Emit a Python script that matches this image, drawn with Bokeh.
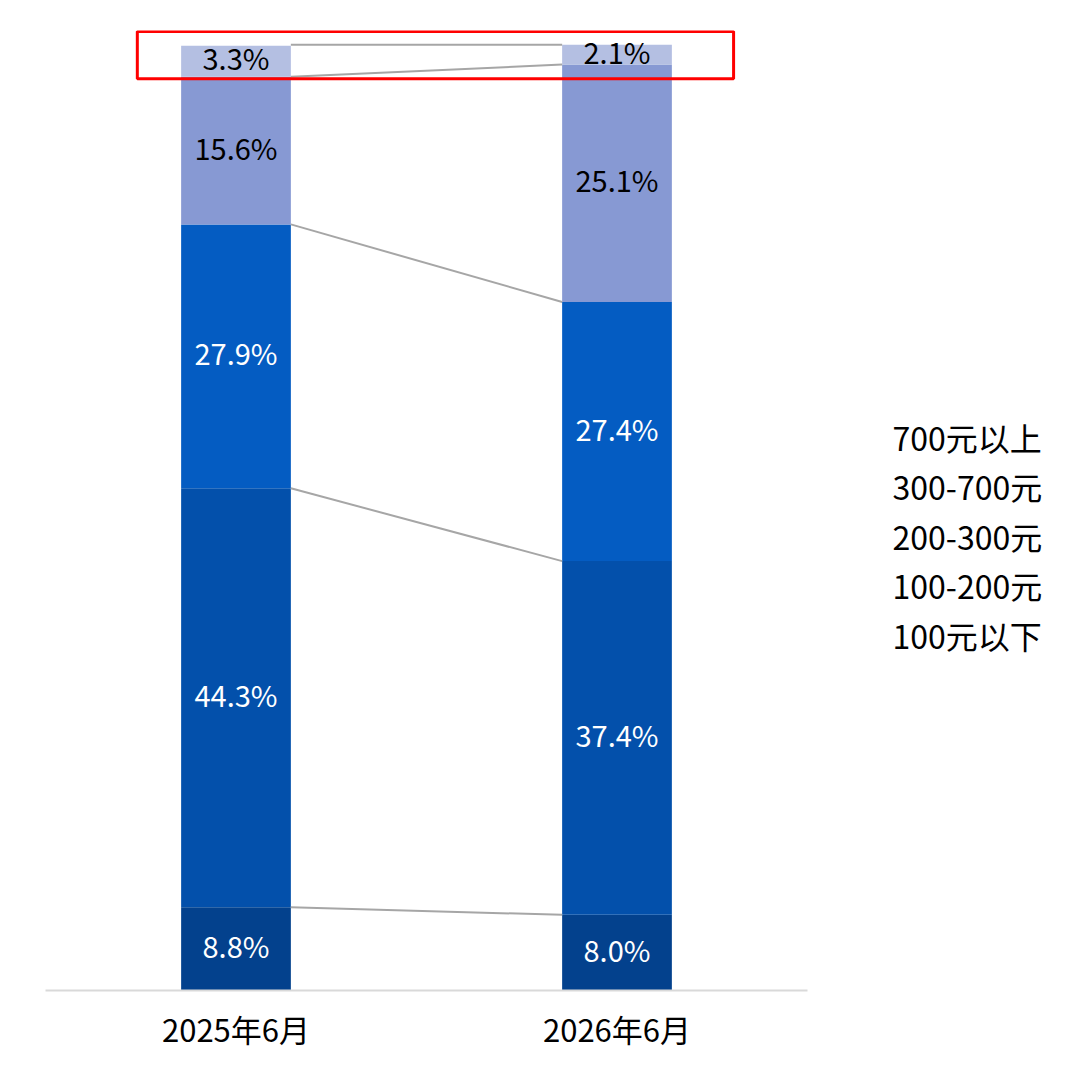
from bokeh.plotting import figure
from bokeh.models import ColumnDataSource, FactorRange, Range1d, BoxAnnotation
from bokeh.layouts import row
from bokeh.core.properties import value
from bokeh.embed import file_html
from bokeh.resources import INLINE

periods = ["2025年6月", "2026年6月"]
segments = ["100元以下", "100-200元", "200-300元", "300-700元", "700元以上"]
share_2025 = [8.8, 44.3, 27.9, 15.6, 3.3]
share_2026 = [8.0, 37.4, 27.4, 25.1, 2.1]
colors = ["#03418D", "#0350AB", "#045CC2", "#8799D3", "#B4BFE2"]
label_colors = ["white", "white", "white", "black", "black"]

FONT = "Noto Sans CJK SC"
H = 1064
PW = 830
LW = 234
TOP, BOTTOM = 30, 990

p = figure(x_range=FactorRange(*periods), y_range=Range1d(0, 101.5),
           width=PW, height=H, output_backend="svg", toolbar_location=None,
           min_border_left=45, min_border_right=PW - 45 - 762, min_border_top=TOP,
           min_border_bottom=H - BOTTOM)
p.outline_line_color = None
p.xgrid.visible = False
p.ygrid.visible = False
p.yaxis.visible = False

data = {"period": periods}
for i, s in enumerate(segments):
    data[s] = [share_2025[i], share_2026[i]]
src = ColumnDataSource(data)
p.vbar_stack(segments, x="period", width=0.288, color=colors, source=src,
             line_color=None)

# connector lines between cumulative boundaries
bar_half = 0.144
cum_a, cum_b = [0.0], [0.0]
for a, b in zip(share_2025, share_2026):
    cum_a.append(cum_a[-1] + a)
    cum_b.append(cum_b[-1] + b)
xs, ys = [], []
for k in range(1, len(cum_a)):
    top_a = cum_a[k] if k < len(cum_a) - 1 else 100.0
    top_b = cum_b[k] if k < len(cum_b) - 1 else 100.0
    xs.append([0.5 + bar_half, 1.5 - bar_half])
    ys.append([top_a, top_b])
p.multi_line(xs, ys, line_color="#A6A6A6", line_width=2)

# value labels
lx, ly, lt, lc = [], [], [], []
for shares, xc, cum in ((share_2025, 0.5, cum_a), (share_2026, 1.5, cum_b)):
    for i, v in enumerate(shares):
        lx.append(xc)
        ly.append(cum[i] + v / 2)
        lt.append(f"{v:.1f}%")
        lc.append(label_colors[i])
p.text(x=lx, y=ly, text=lt, text_color=lc, text_align="center",
       text_baseline="middle", y_offset=-4,
       text_font=value(FONT), text_font_size="29px")

# red highlight box
p.add_layout(BoxAnnotation(left=0.241, right=1.806, bottom=96.4, top=101.4,
                           fill_alpha=0, line_color="#FF0000", line_alpha=1.0,
                           line_width=3, level="overlay"))

ax = p.xaxis
ax.axis_line_color = "#D9D9D9"
ax.axis_line_width = 2
ax.major_tick_line_color = None
ax.minor_tick_line_color = None
ax.major_label_text_font = FONT
ax.major_label_text_font_size = "31px"
ax.major_label_text_color = "black"
ax.major_label_standoff = 9

# legend panel (text only, no markers); frame aligned with main plot frame
lg = figure(x_range=Range1d(PW, PW + LW), y_range=Range1d(BOTTOM, TOP),
            width=LW, height=H, output_backend="svg", toolbar_location=None,
            min_border_left=0, min_border_right=0, min_border_top=TOP,
            min_border_bottom=H - BOTTOM)
lg.outline_line_color = None
lg.axis.visible = False
lg.grid.visible = False
names = list(reversed(segments))
lg.text(x=[892] * len(names), y=[436 + i * 49.5 for i in range(len(names))],
        text=names, text_font=value(FONT), text_font_size="32px",
        text_baseline="middle", text_color="black")

open("out.html", "w").write(file_html(row(p, lg), INLINE))
